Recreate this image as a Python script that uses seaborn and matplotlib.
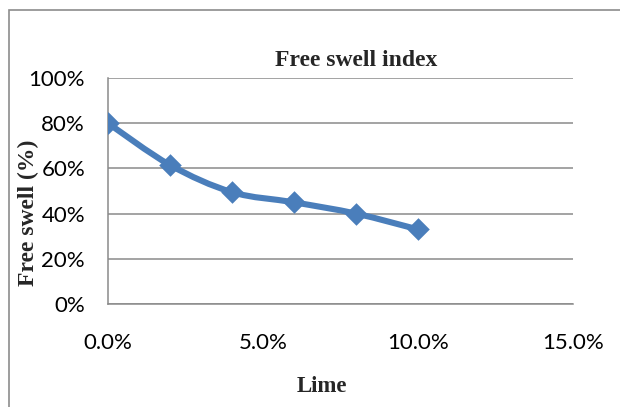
import numpy as np
import pandas as pd
import matplotlib
matplotlib.use("Agg")
import matplotlib.pyplot as plt
from matplotlib.path import Path
from matplotlib.patches import PathPatch, Rectangle
from matplotlib.ticker import PercentFormatter, MultipleLocator
import seaborn as sns

# Lime content (fraction) and measured free swell (fraction)
lime = [0.00, 0.02, 0.04, 0.06, 0.08, 0.10]
free_swell = [0.80, 0.615, 0.495, 0.45, 0.40, 0.33]

title = "Free swell index"
x_label = "Lime"
y_label = "Free swell (%)"

df = pd.DataFrame({"Lime": lime, "Free swell": free_swell})

sns.set_style("white")
plt.rcParams["font.family"] = ["Lato", "DejaVu Sans"]

BLUE = "#4A7EBB"
GRID = "#8A8A8A"

fig = plt.figure(figsize=(6.2, 4.07), dpi=100)
W, H = 620, 407
ax = fig.add_axes([108 / W, 1 - 304 / H, (573 - 108) / W, (304 - 78) / H])

# outer chart frame
fig.add_artist(Rectangle((9 / W, -0.1), 1.2, 1 - 10.5 / H + 0.1,
                         transform=fig.transFigure, fill=False,
                         edgecolor="#8C8C8C", linewidth=1.2))


def smooth_path(xs, ys):
    """Catmull-Rom style cubic Bezier through the data points."""
    pts = np.column_stack([xs, ys]).astype(float)
    ext = np.vstack([pts[0], pts, pts[-1]])
    verts = [pts[0]]
    codes = [Path.MOVETO]
    for i in range(1, len(ext) - 2):
        p0, p1, p2, p3 = ext[i - 1], ext[i], ext[i + 1], ext[i + 2]
        c1 = p1 + (p2 - p0) / 6.0
        c2 = p2 - (p3 - p1) / 6.0
        verts += [c1, c2, p2]
        codes += [Path.CURVE4] * 3
    return Path(verts, codes)


ax.add_patch(PathPatch(smooth_path(df["Lime"], df["Free swell"]),
                       facecolor="none", edgecolor=BLUE, linewidth=4.4,
                       capstyle="round", joinstyle="round", zorder=3))
sns.scatterplot(data=df, x="Lime", y="Free swell", ax=ax, marker="D",
                s=11.5 ** 2, color=BLUE, edgecolor=BLUE, linewidth=0,
                zorder=4, legend=False)

ax.set_xlim(0, 0.15)
ax.set_ylim(0, 1.0)
ax.xaxis.set_major_locator(MultipleLocator(0.05))
ax.yaxis.set_major_locator(MultipleLocator(0.2))
ax.xaxis.set_major_formatter(PercentFormatter(1.0, decimals=1))
ax.yaxis.set_major_formatter(PercentFormatter(1.0, decimals=0))
ax.yaxis.grid(True, color=GRID, linewidth=1.1)
ax.xaxis.grid(False)
for side in ["top", "right"]:
    ax.spines[side].set_visible(False)
for side in ["left", "bottom"]:
    ax.spines[side].set_color(GRID)
    ax.spines[side].set_linewidth(1.1)
ax.tick_params(axis="both", length=0, labelsize=16, colors="black")
ax.tick_params(axis="y", pad=16.5)
ax.tick_params(axis="x", pad=21)
ax.set_xlabel("")
ax.set_ylabel("")

serif = ["Liberation Serif", "DejaVu Serif"]
fig.text(356 / W, 1 - 60 / H, title, ha="center", va="center",
         fontsize=17, fontweight="bold", family=serif)
fig.text(322 / W, 1 - 386 / H, x_label, ha="center", va="center",
         fontsize=16.5, fontweight="bold", family=serif)
fig.text(28 / W, 1 - 213 / H, y_label, ha="center", va="center",
         rotation=90, fontsize=17, fontweight="bold", family=serif)

fig.savefig("out.png", dpi=100)
